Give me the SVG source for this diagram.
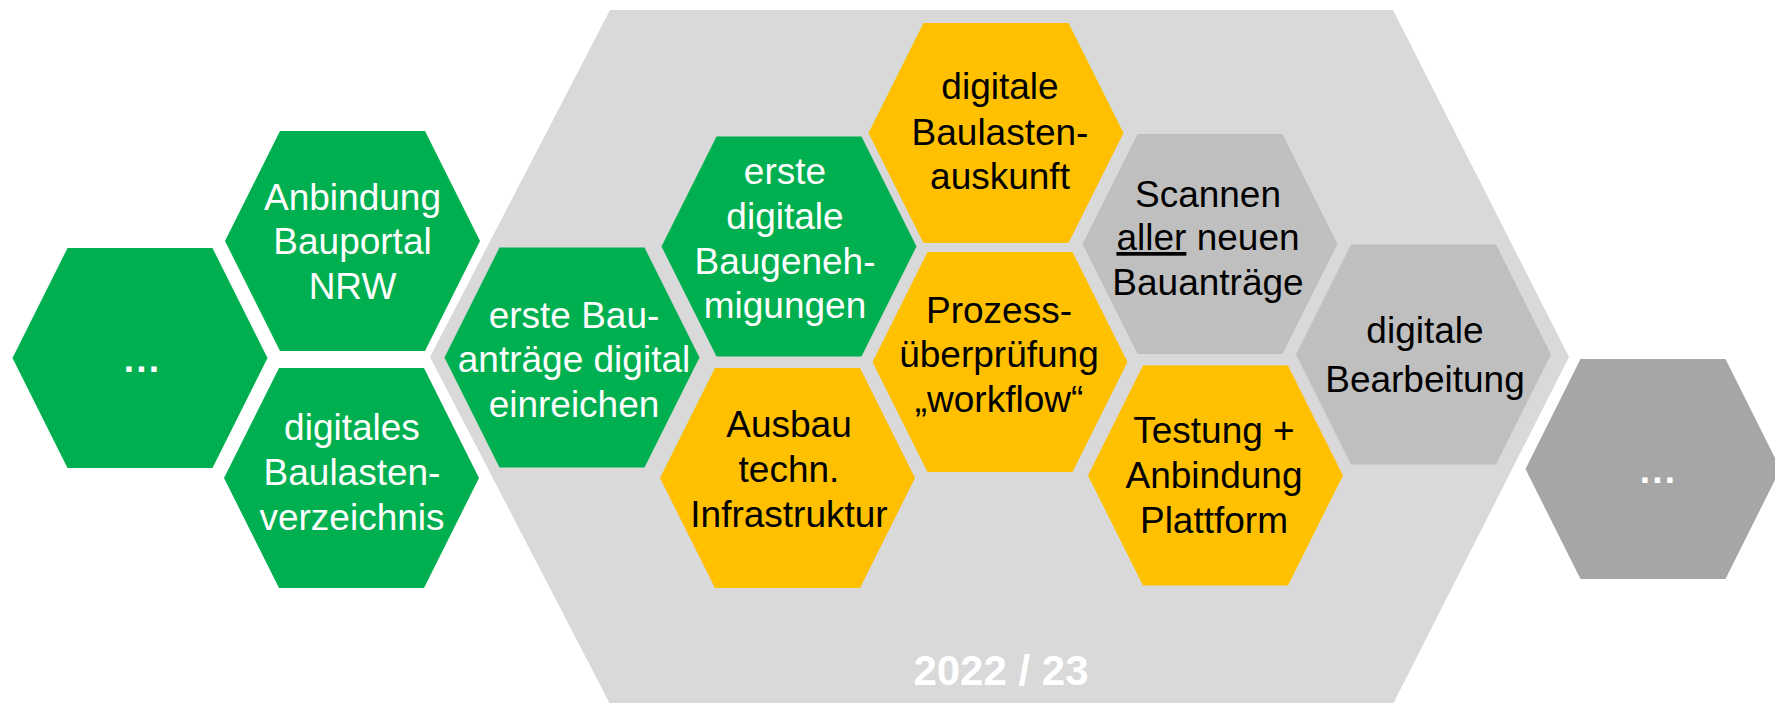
<svg xmlns="http://www.w3.org/2000/svg" width="1775" height="703" viewBox="0 0 1775 703">
<style>
text{font-family:"Liberation Sans",Arial,sans-serif;font-size:37px;text-anchor:middle}
.w{fill:#ffffff}.b{fill:#000000}
.dots{font-weight:bold;letter-spacing:2.2px}
.green{fill:#00B050}.yellow{fill:#FFC000}.grey{fill:#BFBFBF}.dark{fill:#A6A6A6}
.yr{font-weight:bold;font-size:42px;fill:#ffffff}
</style>
<defs>
<polygon id="hex" points="-127.5,0 -72.5,-110 72.5,-110 127.5,0 72.5,110 -72.5,110"/>
</defs>
<rect width="1775" height="703" fill="#ffffff"/>
<g id="year-2022-23">
<polygon points="430,357 610,10 1393,10 1569,357 1393,704 610,704" fill="#D9D9D9"/>
<text class="yr" x="1001" y="685">2022 / 23</text>
</g>
<g id="connectors"></g>
<g id="n-dots-left"><use href="#hex" x="140" y="358" class="green"/><text class="w dots" x="142.5" y="372">...</text></g>
<g id="n-anbindung"><use href="#hex" x="352.5" y="241" class="green"/><text class="w" x="352.5"><tspan x="352.5" y="210">Anbindung</tspan><tspan x="352.5" y="254">Bauportal</tspan><tspan x="352.5" y="299">NRW</tspan></text></g>
<g id="n-baulastenverzeichnis"><use href="#hex" x="351.5" y="478" class="green"/><text class="w"><tspan x="352" y="440">digitales</tspan><tspan x="352" y="485">Baulasten-</tspan><tspan x="352" y="530">verzeichnis</tspan></text></g>
<g id="n-bauantraege"><use href="#hex" x="572" y="357.5" class="green"/><text class="w"><tspan x="574" y="328">erste Bau-</tspan><tspan x="574" y="372">anträge digital</tspan><tspan x="574" y="417">einreichen</tspan></text></g>
<g id="n-baugenehmigungen"><use href="#hex" x="789" y="246.5" class="green"/><text class="w"><tspan x="785" y="184">erste</tspan><tspan x="785" y="229">digitale</tspan><tspan x="785" y="274">Baugeneh-</tspan><tspan x="785" y="318">migungen</tspan></text></g>
<g id="n-baulastenauskunft"><use href="#hex" x="996" y="133" class="yellow"/><text class="b"><tspan x="1000" y="99">digitale</tspan><tspan x="1000" y="145">Baulasten-</tspan><tspan x="1000" y="189">auskunft</tspan></text></g>
<g id="n-prozess"><use href="#hex" x="1000" y="362" class="yellow"/><text class="b"><tspan x="999" y="323">Prozess-</tspan><tspan x="999" y="367">überprüfung</tspan><tspan x="999" y="412">„workflow“</tspan></text></g>
<g id="n-ausbau"><use href="#hex" x="787.5" y="478" class="yellow"/><text class="b"><tspan x="789" y="437">Ausbau</tspan><tspan x="789" y="482">techn.</tspan><tspan x="789" y="527">Infrastruktur</tspan></text></g>
<g id="n-scannen"><use href="#hex" x="1210" y="244" class="grey"/><text class="b"><tspan x="1208" y="207">Scannen</tspan><tspan x="1208" y="250"><tspan style="text-decoration:underline">aller</tspan> neuen</tspan><tspan x="1208" y="295">Bauanträge</tspan></text></g>
<g id="n-bearbeitung"><use href="#hex" x="1423.5" y="354.5" class="grey"/><text class="b"><tspan x="1425" y="343">digitale</tspan><tspan x="1425" y="392">Bearbeitung</tspan></text></g>
<g id="n-testung"><use href="#hex" x="1215.5" y="475.5" class="yellow"/><text class="b"><tspan x="1214" y="443">Testung +</tspan><tspan x="1214" y="488">Anbindung</tspan><tspan x="1214" y="533">Plattform</tspan></text></g>
<g id="n-dots-right"><use href="#hex" x="1653" y="469" class="dark"/><text class="w dots" x="1658.5" y="483">...</text></g>
</svg>
